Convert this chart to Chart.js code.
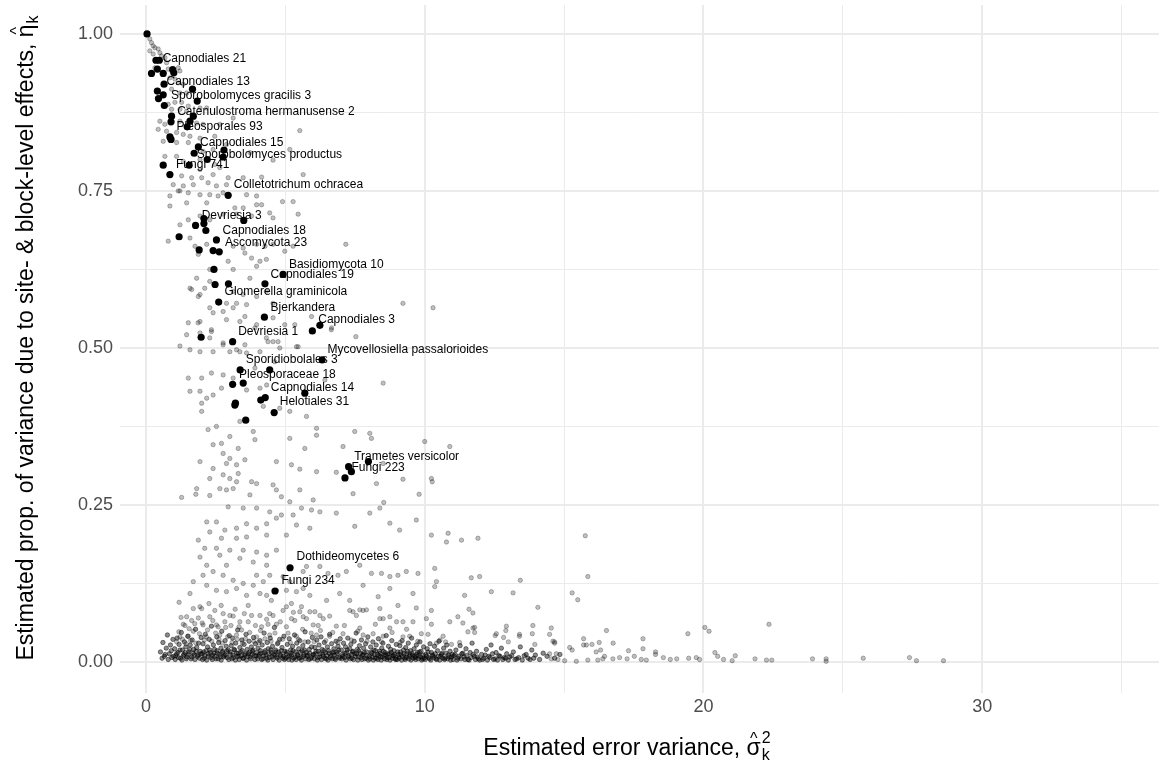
<!DOCTYPE html>
<html>
<head>
<meta charset="utf-8">
<script src="https://cdn.jsdelivr.net/npm/chart.js@4.4.0/dist/chart.umd.min.js"></script>
<style>
  html, body { margin: 0; background: #fff; }
  #wrap { width: 1164px; height: 767px; }
</style>
</head>
<body>
<div id="wrap"><canvas id="chart" width="1164" height="767"></canvas></div>
<script>
// ---- data ([x, y] = [error variance, prop. of variance]) ----

// grey taxa, upper left arm (y > 0.74)
const upperPts = [[0.14,0.992],[0.20,0.986],[0.26,0.981],[0.32,0.978],[0.14,0.973],[0.44,0.976],[0.50,0.970],[0.26,0.968],[0.56,0.965],[0.68,0.962],[0.74,0.954],[0.32,0.946],[0.80,0.944],[1.16,0.946],[1.22,0.941],[0.86,0.930],[1.04,0.928],[1.16,0.922],[1.34,0.920],[0.92,0.912],[1.22,0.906],[1.46,0.906],[0.80,0.888],[1.04,0.891],[1.28,0.891],[1.52,0.885],[0.92,0.880],[1.22,0.880],[1.46,0.877],[1.94,0.882],[2.18,0.882],[0.50,0.861],[0.68,0.856],[1.22,0.861],[1.82,0.858],[2.05,0.856],[2.65,0.856],[3.13,0.866],[0.44,0.848],[0.74,0.845],[1.10,0.843],[1.34,0.840],[1.58,0.837],[1.94,0.834],[2.47,0.837],[0.62,0.829],[1.10,0.827],[1.52,0.827],[2.05,0.813],[2.41,0.816],[2.89,0.824],[3.73,0.811],[4.56,0.799],[5.16,0.816],[5.52,0.846],[0.68,0.805],[1.10,0.805],[1.34,0.797],[1.94,0.800],[2.47,0.792],[2.65,0.787],[1.94,0.784],[1.28,0.774],[1.64,0.771],[2.00,0.771],[2.41,0.776],[2.95,0.771],[3.49,0.771],[4.15,0.772],[5.64,0.776],[0.98,0.760],[1.34,0.758],[1.70,0.760],[2.23,0.763],[2.53,0.758],[2.89,0.760],[1.22,0.750],[1.52,0.747],[1.94,0.744],[2.29,0.744],[2.59,0.742],[3.61,0.744],[3.97,0.742],[0.86,0.742]];

// grey taxa, middle (0.34 < y < 0.74)
const middlePts = [[1.16,0.750],[1.46,0.731],[2.18,0.731],[2.77,0.747],[3.19,0.723],[3.49,0.723],[3.97,0.728],[4.15,0.728],[4.90,0.733],[5.28,0.733],[0.86,0.726],[1.52,0.704],[1.22,0.696],[1.94,0.710],[2.29,0.704],[2.77,0.713],[3.25,0.713],[3.79,0.710],[4.44,0.715],[4.56,0.707],[5.46,0.713],[0.80,0.670],[1.58,0.675],[1.76,0.662],[2.18,0.665],[3.13,0.662],[3.49,0.659],[3.97,0.665],[4.27,0.662],[4.56,0.665],[4.98,0.654],[5.28,0.662],[1.88,0.649],[2.95,0.638],[3.55,0.651],[3.79,0.643],[4.09,0.638],[4.32,0.641],[7.17,0.665],[2.29,0.625],[3.13,0.625],[3.97,0.630],[1.82,0.611],[2.11,0.595],[1.64,0.593],[1.88,0.582],[2.29,0.606],[3.13,0.590],[3.49,0.585],[3.73,0.611],[3.97,0.582],[4.32,0.590],[2.89,0.571],[3.61,0.569],[4.56,0.571],[3.13,0.564],[1.52,0.540],[1.94,0.542],[2.35,0.529],[2.89,0.545],[3.37,0.542],[3.97,0.537],[4.56,0.548],[4.98,0.537],[5.94,0.550],[6.66,0.532],[7.53,0.518],[1.46,0.521],[2.29,0.516],[2.77,0.505],[3.25,0.497],[3.61,0.492],[4.32,0.516],[4.56,0.510],[1.22,0.503],[1.58,0.497],[5.46,0.502],[9.22,0.571],[10.30,0.564],[6.65,0.529],[5.34,0.537],[8.51,0.444],[6.42,0.449],[4.09,0.494],[4.62,0.478],[4.80,0.500],[4.74,0.510],[5.40,0.502],[3.91,0.468],[4.09,0.436],[4.33,0.441],[3.61,0.433],[2.71,0.436],[2.41,0.425],[2.18,0.420],[1.94,0.431],[1.58,0.431],[1.52,0.452],[2.00,0.452],[2.35,0.460],[2.77,0.457],[3.13,0.452],[3.37,0.494],[2.41,0.494],[1.94,0.494],[1.94,0.524],[2.35,0.526],[2.77,0.508],[3.01,0.494],[3.55,0.505],[4.38,0.510],[3.91,0.532],[3.55,0.550],[3.25,0.571],[2.77,0.558],[2.41,0.556],[2.29,0.564],[1.94,0.585],[1.58,0.595],[1.87,0.540],[4.21,0.407],[4.80,0.404],[5.16,0.399],[5.76,0.391],[6.12,0.372],[5.16,0.356],[7.07,0.343],[7.49,0.367],[8.03,0.364],[10.0,0.351],[10.9,0.343],[3.37,0.383],[3.01,0.359],[2.71,0.348],[2.41,0.346],[2.23,0.370],[2.00,0.412],[2.00,0.399],[3.91,0.354],[3.85,0.367],[2.53,0.375]];

// grey taxa, lower scatter (0.08 < y < 0.34)
const lowerPts = [[3.31,0.340],[2.77,0.332],[3.01,0.324],[1.94,0.319],[2.41,0.308],[2.89,0.316],[3.25,0.314],[3.55,0.322],[2.29,0.292],[2.77,0.298],[3.01,0.292],[3.25,0.287],[3.79,0.287],[3.97,0.284],[3.31,0.300],[1.82,0.276],[1.28,0.262],[1.79,0.267],[2.29,0.265],[2.65,0.276],[2.89,0.274],[3.13,0.276],[3.73,0.266],[4.56,0.282],[4.68,0.274],[4.86,0.263],[5.16,0.255],[5.52,0.274],[4.68,0.319],[5.22,0.314],[5.70,0.340],[2.95,0.247],[3.49,0.245],[3.97,0.245],[4.44,0.239],[4.86,0.234],[5.28,0.234],[5.58,0.245],[2.18,0.223],[2.53,0.223],[2.83,0.210],[3.25,0.213],[3.61,0.220],[3.97,0.213],[4.33,0.220],[4.68,0.229],[2.29,0.207],[2.71,0.197],[3.25,0.197],[3.61,0.199],[4.33,0.202],[5.04,0.202],[5.40,0.218],[1.88,0.194],[2.11,0.181],[2.53,0.181],[3.01,0.178],[3.49,0.178],[3.97,0.175],[4.33,0.170],[4.68,0.178],[1.94,0.167],[2.18,0.154],[2.65,0.170],[2.89,0.154],[3.37,0.165],[3.85,0.159],[4.33,0.154],[3.97,0.138],[4.44,0.138],[4.92,0.136],[1.70,0.128],[2.05,0.138],[2.41,0.144],[2.77,0.138],[3.13,0.130],[3.49,0.125],[3.85,0.122],[4.21,0.128],[4.68,0.114],[5.16,0.128],[5.40,0.112],[5.64,0.117],[1.58,0.109],[2.18,0.122],[2.53,0.114],[2.89,0.112],[3.25,0.117],[3.61,0.106],[4.09,0.109],[4.33,0.106],[5.04,0.114],
  [6.12,0.361],[8.09,0.356],[6.12,0.303],[6.83,0.302],[8.51,0.316],[9.22,0.291],[10.24,0.292],[10.27,0.287],[8.27,0.284],[7.43,0.268],[9.80,0.267],[6.00,0.258],[6.24,0.239],[5.94,0.242],[6.83,0.237],[8.03,0.237],[8.39,0.245],[8.53,0.254],[8.75,0.221],[9.70,0.226],[9.10,0.210],[7.49,0.216],[6.24,0.152],[6.53,0.141],[6.89,0.138],[7.19,0.144],[7.67,0.154],[8.09,0.141],[8.45,0.141],[8.75,0.136],[9.04,0.138],[9.34,0.144],[9.76,0.141],[10.36,0.149],[10.42,0.128],[10.78,0.191],[10.84,0.205],[10.24,0.202],[11.32,0.194],[11.91,0.197],[11.67,0.134],[11.97,0.136],[12.39,0.112],[13.17,0.110],[13.43,0.130],[14.06,0.087],[11.43,0.106],[10.36,0.120],[9.58,0.109],[8.75,0.117],[8.33,0.104],[7.79,0.122],[7.31,0.098],[6.95,0.109],[6.48,0.098],[5.88,0.106],[5.22,0.093],[4.50,0.098],[5.88,0.213],[5.76,0.152],[5.64,0.144],[5.52,0.307],[1.19,0.095],[3.67,0.090],[9.04,0.090]];

// grey taxa just above the floor (0.03 < y < 0.09)
const fringePts = [[1.40,0.058],[1.64,0.066],[1.88,0.070],[2.00,0.085],[2.47,0.082],[2.59,0.056],[2.83,0.064],[3.01,0.074],[3.43,0.051],[3.67,0.064],[3.79,0.074],[4.15,0.056],[4.38,0.060],[4.56,0.074],[4.92,0.082],[5.04,0.056],[5.34,0.066],[5.58,0.088],[5.64,0.072],[5.88,0.080],[6.06,0.080],[6.18,0.058],[6.36,0.069],[6.59,0.073],[6.83,0.057],[7.07,0.045],[7.31,0.082],[7.55,0.074],[7.79,0.082],[7.67,0.054],[8.15,0.045],[8.39,0.085],[8.51,0.069],[8.75,0.054],[8.99,0.064],[9.22,0.040],[9.58,0.064],[9.70,0.086],[9.88,0.045],[10.06,0.069],[2.29,0.072],[3.13,0.073],
  [1.22,0.040],[1.52,0.041],[2.17,0.040],[2.65,0.043],[3.25,0.043],[3.97,0.040],[4.44,0.043],[5.40,0.041],[6.12,0.043],[6.59,0.041],[7.79,0.043],[8.51,0.041],[9.46,0.041],
  [1.34,0.060],[1.46,0.072],[1.70,0.085],[1.94,0.088],[1.70,0.049],[2.05,0.059],[2.53,0.059],[2.77,0.077],[3.37,0.064],[4.09,0.074],[4.44,0.077],[4.68,0.060],[5.04,0.088],[5.22,0.069],[5.52,0.080],[5.76,0.069],[6.00,0.059],[6.24,0.074],[7.43,0.080],[7.67,0.083],[7.91,0.083],[8.39,0.069],[8.75,0.072],[9.22,0.064],[10.24,0.060],[10.90,0.064],[11.19,0.072],[11.55,0.048],[11.79,0.055],[12.57,0.045],[12.93,0.057],[13.40,0.044],[13.88,0.058],[14.66,0.032],
  [10.24,0.082],[11.37,0.062],[11.59,0.084],[11.73,0.078],[11.73,0.054],[11.79,0.047],[10.66,0.041],[10.42,0.030],[10.75,0.032],[10.96,0.028],[11.25,0.031],[12.53,0.042],[12.83,0.039],[12.91,0.050],[13.00,0.032],[13.40,0.041],[13.86,0.045],[13.95,0.028],
  [1.10,0.032],[1.18,0.048],[1.26,0.071],[1.31,0.036],[1.44,0.029],[1.55,0.053],[1.60,0.034],[1.75,0.061],[1.79,0.030],[1.92,0.045],[2.02,0.062],[2.10,0.035],[2.21,0.051],[2.26,0.093],[2.36,0.033],[2.40,0.066],[2.50,0.046],[2.62,0.036],[2.70,0.090],[2.74,0.030],[2.86,0.055],[2.93,0.040],[3.05,0.058],[3.09,0.031],[3.20,0.084],[3.28,0.036],[3.34,0.056],[3.46,0.030],[3.53,0.077],[3.57,0.037],[3.72,0.047],[3.87,0.033],[3.93,0.058],[4.04,0.031],[4.11,0.050],[4.27,0.037],[4.33,0.068],[4.49,0.033],[4.63,0.046],[4.74,0.031],[4.82,0.064],[4.90,0.036],[5.10,0.046],[5.18,0.031],[5.29,0.079],[5.47,0.036],[5.62,0.052],[5.70,0.032],[5.93,0.046],[6.03,0.032],[6.26,0.050],[6.45,0.034],[6.70,0.047],[6.89,0.031],[7.12,0.058],[7.37,0.035],[7.60,0.049],[7.93,0.033],[8.23,0.060],[8.45,0.032],[8.83,0.047],[9.12,0.031],[9.35,0.052],[9.75,0.033],[10.12,0.044],[10.55,0.035]];

// grey taxa, long right tail
const tailPts = [[15.76,0.201],[15.85,0.136],[15.29,0.110],[15.49,0.099],[14.54,0.054],[14.48,0.044],[14.60,0.033],[14.66,0.030],[15.20,0.023],[15.29,0.019],[16.52,0.050],[15.70,0.037],[15.70,0.027],[15.80,0.027],[16.00,0.028],[16.26,0.031],[16.76,0.030],[16.15,0.016],[16.31,0.019],[17.31,0.018],[17.83,0.037],[17.83,0.021],[18.28,0.016],[17.52,0.009],[19.44,0.045],[20.05,0.055],[20.20,0.049],[22.35,0.060],[20.41,0.015],[20.51,0.009],[21.14,0.010],[20.72,0.004],[21.03,0.002],[21.85,0.005],[22.26,0.003],[22.45,0.003],[23.91,0.005],[24.40,0.005],[24.40,0.001],[25.73,0.006],[27.39,0.007],[27.64,0.002],[28.61,0.002],[19.74,0.007],[19.86,0.004],[19.47,0.006],[19.04,0.005],[18.81,0.004],[18.56,0.007],[18.28,0.012],[17.95,0.003],[17.77,0.004],[17.26,0.005],[16.99,0.007],[16.75,0.005],[16.45,0.009],[16.39,0.005],[16.21,0.003],[15.85,0.003],[15.44,0.001],[15.02,0.002],[14.78,0.004],[14.54,0.005],[14.48,0.013],[14.72,0.013]];

// grey taxa, the dense floor near zero
const floorPts = [[0.52,0.016],[0.61,0.031],[0.66,0.009],[0.73,0.022],[0.77,0.043],[0.84,0.013],[0.88,0.027],[0.93,0.007],[0.97,0.036],
  [1.03,0.021],[1.07,0.010],[1.12,0.038],[1.15,0.015],[1.19,0.028],[1.24,0.006],[1.27,0.047],[1.31,0.019],[1.36,0.012],[1.38,0.032],[1.43,0.024],[1.47,0.008],[1.50,0.041],[1.54,0.016],[1.59,0.027],[1.62,0.005],[1.66,0.035],[1.71,0.020],[1.73,0.011],[1.78,0.052],[1.82,0.023],[1.85,0.009],[1.89,0.030],[1.94,0.017],[1.98,0.039],
  [2.02,0.013],[2.05,0.029],[2.09,0.006],[2.13,0.044],[2.16,0.018],[2.21,0.024],[2.24,0.009],[2.27,0.036],[2.32,0.015],[2.35,0.057],[2.39,0.011],[2.42,0.027],[2.46,0.020],[2.51,0.005],[2.54,0.040],[2.57,0.014],[2.61,0.031],[2.66,0.008],[2.69,0.022],[2.72,0.049],[2.76,0.017],[2.81,0.010],[2.84,0.034],[2.88,0.025],[2.91,0.007],[2.95,0.019],[2.99,0.042],
  [3.03,0.012],[3.06,0.026],[3.11,0.038],[3.14,0.007],[3.18,0.019],[3.22,0.030],[3.25,0.014],[3.29,0.051],[3.33,0.009],[3.37,0.023],[3.40,0.016],[3.44,0.035],[3.48,0.006],[3.52,0.028],[3.55,0.011],[3.59,0.044],[3.63,0.020],[3.67,0.013],[3.70,0.033],[3.74,0.008],[3.78,0.024],[3.82,0.017],[3.86,0.039],[3.89,0.010],[3.93,0.029],[3.97,0.015],
  [4.02,0.022],[4.05,0.009],[4.09,0.034],[4.13,0.014],[4.17,0.027],[4.20,0.005],[4.24,0.046],[4.28,0.018],[4.31,0.011],[4.35,0.031],[4.39,0.021],[4.43,0.007],[4.46,0.038],[4.50,0.015],[4.54,0.025],[4.58,0.012],[4.61,0.055],[4.65,0.019],[4.69,0.008],[4.72,0.029],[4.76,0.016],[4.80,0.036],[4.84,0.010],[4.88,0.023],[4.91,0.006],[4.95,0.041],[4.98,0.017],
  [5.03,0.013],[5.07,0.028],[5.10,0.008],[5.14,0.037],[5.19,0.019],[5.22,0.011],[5.26,0.025],[5.30,0.006],[5.33,0.043],[5.37,0.016],[5.41,0.030],[5.45,0.010],[5.48,0.021],[5.52,0.034],[5.56,0.007],[5.60,0.018],[5.63,0.026],[5.67,0.012],[5.71,0.048],[5.75,0.015],[5.78,0.009],[5.82,0.032],[5.86,0.020],[5.90,0.005],[5.94,0.024],[5.97,0.039],
  [6.02,0.011],[6.06,0.023],[6.10,0.017],[6.13,0.035],[6.17,0.007],[6.21,0.027],[6.25,0.013],[6.28,0.040],[6.32,0.020],[6.36,0.009],[6.40,0.031],[6.44,0.015],[6.47,0.005],[6.51,0.024],[6.55,0.018],[6.59,0.044],[6.63,0.010],[6.66,0.029],[6.70,0.014],[6.74,0.021],[6.78,0.006],[6.82,0.033],[6.85,0.016],[6.89,0.025],[6.93,0.008],[6.97,0.037],
  [7.01,0.019],[7.05,0.012],[7.09,0.030],[7.12,0.007],[7.16,0.024],[7.20,0.015],[7.24,0.038],[7.28,0.010],[7.31,0.021],[7.35,0.028],[7.39,0.006],[7.43,0.017],[7.47,0.033],[7.50,0.013],[7.54,0.046],[7.58,0.020],[7.62,0.008],[7.66,0.026],[7.69,0.014],[7.73,0.035],[7.77,0.011],[7.81,0.022],[7.85,0.005],[7.88,0.029],[7.92,0.016],[7.96,0.040],
  [8.02,0.009],[8.06,0.024],[8.10,0.014],[8.14,0.032],[8.18,0.019],[8.22,0.006],[8.26,0.027],[8.30,0.012],[8.34,0.037],[8.38,0.017],[8.42,0.008],[8.46,0.022],[8.50,0.030],[8.54,0.011],[8.58,0.015],[8.62,0.042],[8.66,0.007],[8.70,0.025],[8.74,0.013],[8.78,0.020],[8.82,0.034],[8.86,0.010],[8.90,0.018],[8.94,0.005],[8.98,0.028],
  [9.03,0.016],[9.07,0.008],[9.11,0.026],[9.15,0.012],[9.19,0.034],[9.24,0.019],[9.28,0.006],[9.32,0.023],[9.36,0.013],[9.41,0.030],[9.45,0.009],[9.49,0.018],[9.53,0.038],[9.57,0.011],[9.62,0.021],[9.66,0.007],[9.70,0.027],[9.74,0.015],[9.79,0.010],[9.83,0.032],[9.87,0.017],[9.92,0.005],[9.96,0.024],
  [10.04,0.012],[10.09,0.021],[10.14,0.007],[10.19,0.029],[10.24,0.015],[10.30,0.010],[10.35,0.025],[10.40,0.005],[10.46,0.018],[10.51,0.033],[10.57,0.009],[10.62,0.014],[10.68,0.022],[10.73,0.006],[10.79,0.027],[10.85,0.011],[10.91,0.017],[10.96,0.008],
  [11.05,0.010],[11.12,0.019],[11.19,0.006],[11.27,0.026],[11.33,0.013],[11.41,0.008],[11.48,0.021],[11.55,0.004],[11.63,0.015],[11.70,0.030],[11.78,0.009],[11.86,0.017],[11.93,0.005],
  [12.04,0.012],[12.12,0.006],[12.21,0.020],[12.30,0.009],[12.38,0.027],[12.47,0.004],[12.56,0.015],[12.66,0.010],[12.75,0.022],[12.85,0.007],[12.94,0.013],
  [13.05,0.008],[13.18,0.016],[13.30,0.005],[13.43,0.024],[13.57,0.010],[13.71,0.006],[13.84,0.019],[13.97,0.011],[14.12,0.004],[14.25,0.014],[14.39,0.009],[14.66,0.006],[14.85,0.012]];

// grey taxa, the darkest core of the floor (y < 0.02)
const corePts = [[0.58,0.006],[0.69,0.012],[0.80,0.004],[0.91,0.018],[0.99,0.009],
  [1.05,0.004],[1.10,0.013],[1.17,0.007],[1.22,0.019],[1.29,0.003],[1.34,0.010],[1.41,0.015],[1.45,0.005],[1.52,0.012],[1.57,0.020],[1.64,0.008],[1.69,0.014],[1.76,0.004],[1.80,0.017],[1.87,0.011],[1.92,0.006],[1.97,0.013],
  [2.03,0.004],[2.07,0.016],[2.11,0.010],[2.18,0.003],[2.23,0.013],[2.29,0.019],[2.33,0.007],[2.38,0.004],[2.44,0.014],[2.48,0.009],[2.55,0.018],[2.59,0.005],[2.64,0.012],[2.70,0.003],[2.74,0.015],[2.79,0.008],[2.86,0.011],[2.90,0.017],[2.97,0.004],
  [3.02,0.016],[3.08,0.005],[3.12,0.011],[3.16,0.020],[3.21,0.003],[3.27,0.009],[3.31,0.014],[3.35,0.004],[3.42,0.010],[3.46,0.018],[3.50,0.006],[3.57,0.013],[3.61,0.003],[3.65,0.009],[3.72,0.016],[3.76,0.005],[3.81,0.012],[3.84,0.019],[3.91,0.004],[3.95,0.010],
  [4.01,0.005],[4.07,0.012],[4.11,0.018],[4.15,0.004],[4.22,0.010],[4.26,0.015],[4.33,0.006],[4.37,0.003],[4.41,0.013],[4.48,0.019],[4.52,0.008],[4.56,0.004],[4.63,0.011],[4.67,0.016],[4.71,0.006],[4.78,0.003],[4.82,0.012],[4.86,0.018],[4.93,0.009],[4.97,0.004],
  [5.01,0.006],[5.05,0.016],[5.12,0.004],[5.16,0.010],[5.21,0.014],[5.24,0.003],[5.28,0.018],[5.35,0.008],[5.39,0.004],[5.43,0.012],[5.50,0.006],[5.54,0.015],[5.58,0.003],[5.65,0.009],[5.69,0.019],[5.73,0.005],[5.80,0.011],[5.84,0.004],[5.88,0.014],[5.95,0.007],[5.99,0.012],
  [6.04,0.005],[6.08,0.013],[6.15,0.003],[6.19,0.017],[6.23,0.008],[6.30,0.004],[6.34,0.012],[6.38,0.018],[6.42,0.006],[6.49,0.010],[6.53,0.003],[6.57,0.014],[6.61,0.007],[6.68,0.005],[6.72,0.016],[6.76,0.011],[6.80,0.004],[6.87,0.013],[6.91,0.019],[6.95,0.006],
  [7.03,0.005],[7.07,0.009],[7.14,0.014],[7.18,0.003],[7.22,0.019],[7.26,0.008],[7.33,0.005],[7.37,0.012],[7.41,0.016],[7.45,0.004],[7.52,0.009],[7.56,0.013],[7.60,0.003],[7.64,0.018],[7.71,0.007],[7.75,0.004],[7.79,0.012],[7.83,0.015],[7.90,0.006],[7.94,0.010],[7.98,0.003],
  [8.04,0.005],[8.08,0.016],[8.12,0.008],[8.16,0.003],[8.20,0.012],[8.24,0.018],[8.28,0.006],[8.32,0.004],[8.36,0.010],[8.40,0.014],[8.44,0.003],[8.48,0.008],[8.52,0.017],[8.56,0.005],[8.60,0.011],[8.64,0.004],[8.68,0.013],[8.72,0.007],[8.76,0.003],[8.80,0.015],[8.84,0.006],[8.88,0.010],[8.92,0.012],[8.96,0.004],
  [9.01,0.004],[9.05,0.012],[9.09,0.006],[9.13,0.016],[9.17,0.003],[9.21,0.009],[9.26,0.013],[9.30,0.004],[9.34,0.007],[9.38,0.017],[9.43,0.005],[9.47,0.011],[9.51,0.003],[9.55,0.014],[9.59,0.006],[9.64,0.009],[9.68,0.004],[9.72,0.012],[9.77,0.005],[9.81,0.016],[9.85,0.008],[9.89,0.003],[9.94,0.011],[9.98,0.006],
  [10.02,0.004],[10.07,0.009],[10.12,0.016],[10.17,0.005],[10.22,0.003],[10.27,0.011],[10.33,0.007],[10.38,0.013],[10.43,0.004],[10.49,0.009],[10.54,0.003],[10.60,0.012],[10.65,0.006],[10.71,0.004],[10.76,0.014],[10.82,0.005],[10.88,0.008],[10.93,0.003],[10.99,0.012],
  [11.02,0.004],[11.09,0.012],[11.16,0.003],[11.23,0.009],[11.30,0.005],[11.37,0.014],[11.44,0.004],[11.51,0.010],[11.59,0.003],[11.66,0.007],[11.74,0.012],[11.82,0.004],[11.89,0.008],[11.97,0.003],
  [12.08,0.004],[12.17,0.011],[12.25,0.003],[12.34,0.007],[12.43,0.013],[12.52,0.005],[12.61,0.003],[12.70,0.009],[12.80,0.004],[12.90,0.006],[13.00,0.003],[13.12,0.010],[13.24,0.004],[13.37,0.007],[13.50,0.003],[13.64,0.012],[13.78,0.004],[13.91,0.006]];

// highlighted taxa (black dots)
const keyPts = [[0.04,1.000],[0.36,0.958],[0.48,0.958],[0.20,0.937],[0.41,0.944],[0.62,0.937],[0.96,0.943],[1.00,0.938],[0.65,0.920],[0.41,0.909],[1.67,0.912],[0.62,0.903],[0.45,0.897],[1.84,0.893],[0.66,0.886],[0.92,0.869],[1.70,0.869],[1.58,0.861],[0.90,0.860],[1.48,0.852],[0.86,0.836],[0.90,0.832],[1.88,0.820],[2.80,0.815],[1.73,0.810],[2.77,0.804],[2.20,0.800],[0.62,0.791],[1.55,0.791],[0.86,0.776],[2.95,0.743],[3.51,0.703],[2.08,0.706],[1.78,0.695],[2.08,0.698],[2.15,0.687],[1.19,0.677],[2.53,0.672],[1.91,0.656],[2.41,0.655],[2.63,0.653],[2.44,0.625],[4.92,0.617],[2.48,0.601],[2.96,0.602],[4.27,0.602],[2.61,0.573],[4.25,0.549],[6.24,0.536],[5.97,0.527],[1.98,0.517],[3.11,0.510],[6.32,0.481],[3.38,0.465],[4.44,0.465],[3.11,0.442],[3.49,0.444],[5.70,0.428],[4.12,0.417],[4.28,0.421],[3.19,0.409],[3.21,0.412],[4.60,0.397],[3.58,0.385],[7.98,0.319],[7.27,0.311],[7.37,0.303],[7.14,0.293],[5.17,0.150],[4.63,0.113]];

// text labels and where their left edge sits (data units)
const labelNames = ['Capnodiales 21','Capnodiales 13','Sporobolomyces gracilis 3','Catenulostroma hermanusense 2','Pleosporales 93','Capnodiales 15','Sporobolomyces productus','Fungi 741','Colletotrichum ochracea','Devriesia 3','Capnodiales 18','Ascomycota 23','Basidiomycota 10','Capnodiales 19','Glomerella graminicola','Bjerkandera','Capnodiales 3','Devriesia 1','Mycovellosiella passalorioides','Sporidiobolales 3','Pleosporaceae 18','Capnodiales 14','Helotiales 31','Trametes versicolor','Fungi 223','Dothideomycetes 6','Fungi 234'];
const labelX = [0.60,0.74,0.90,1.12,1.10,1.94,1.82,1.08,3.15,2.00,2.75,2.84,5.13,4.47,2.82,4.47,6.18,3.31,6.51,3.58,3.34,4.48,4.80,7.47,7.37,5.40,4.86];
const labelY = [0.961,0.924,0.901,0.876,0.852,0.826,0.807,0.791,0.760,0.711,0.687,0.668,0.632,0.617,0.589,0.564,0.545,0.526,0.497,0.481,0.458,0.437,0.414,0.327,0.309,0.167,0.129];

const xGridTicks = [0, 5, 10, 15, 20, 25, 30, 35];
const yGridTicks = [0, 0.125, 0.25, 0.375, 0.5, 0.625, 0.75, 0.875, 1];

// ---- drawing ----
const FONT = '"Liberation Sans", Arial, Helvetica, sans-serif';
const PANEL_LEFT = 120;
const PANEL_BOTTOM = 691;

const toXY = p => ({ x: p[0], y: p[1] });
const greyAll = [].concat(upperPts, middlePts, lowerPts, fringePts, tailPts);
const floorAll = [].concat(floorPts, corePts);

function drawMathTitle(ctx, lead, sym, sup, sub, cx, baseY) {
  const big = '23px ' + FONT;
  const small = '16px ' + FONT;
  ctx.font = big;
  const wLead = ctx.measureText(lead).width;
  const wSym = ctx.measureText(sym).width;
  ctx.font = small;
  const wScript = Math.max(sup ? ctx.measureText(sup).width : 0, ctx.measureText(sub).width);
  let x = cx - (wLead + wSym + wScript + 1) / 2;
  ctx.textAlign = 'left';
  ctx.textBaseline = 'alphabetic';
  ctx.font = big;
  ctx.fillText(lead, x, baseY);
  x += wLead;
  ctx.fillText(sym, x, baseY);
  ctx.font = small;
  ctx.textAlign = 'center';
  ctx.fillText('^', x + wSym / 2, baseY - 11);
  ctx.textAlign = 'left';
  x += wSym + 1;
  if (sup) ctx.fillText(sup, x, baseY - 12);
  ctx.fillText(sub, x, baseY + 5);
}

const annotate = {
  id: 'annotate',
  afterDatasetsDraw(chart) {
    const { ctx, scales } = chart;
    ctx.save();
    ctx.fillStyle = '#000';
    ctx.font = '12px ' + FONT;
    ctx.textAlign = 'left';
    ctx.textBaseline = 'middle';
    labelNames.forEach((name, i) => {
      ctx.fillText(name, scales.x.getPixelForValue(labelX[i]), scales.y.getPixelForValue(labelY[i]));
    });
    ctx.restore();
  },
  afterDraw(chart) {
    const { ctx } = chart;
    ctx.save();
    ctx.fillStyle = '#000';
    drawMathTitle(ctx, 'Estimated error variance, ', 'σ', '2', 'k', 627, 755);
    ctx.translate(33, 338);
    ctx.rotate(-Math.PI / 2);
    drawMathTitle(ctx, 'Estimated prop. of variance due to site- & block-level effects, ', 'η', null, 'k', 0, 0);
    ctx.restore();
  }
};

const gridColor = '#ebebeb';
const noPad = s => { s.paddingTop = 0; s.paddingBottom = 0; s.paddingLeft = 0; s.paddingRight = 0; };

new Chart(document.getElementById('chart'), {
  type: 'scatter',
  data: {
    datasets: [
      {
        data: keyPts.map(toXY), order: 0,
        pointRadius: 3.6, pointBackgroundColor: '#000', pointBorderWidth: 0
      },
      {
        data: greyAll.map(toXY), order: 1,
        pointRadius: 2.2, pointBackgroundColor: 'rgba(0,0,0,0.25)',
        pointBorderColor: 'rgba(0,0,0,0.25)', pointBorderWidth: 1
      },
      {
        data: floorAll.map(toXY), order: 2,
        pointRadius: 2.2, pointBackgroundColor: 'rgba(0,0,0,0.45)',
        pointBorderColor: 'rgba(0,0,0,0.45)', pointBorderWidth: 1
      }
    ]
  },
  options: {
    responsive: false,
    animation: false,
    events: [],
    layout: { padding: { top: 0, right: 4, left: 0, bottom: 0 } },
    plugins: { legend: { display: false }, tooltip: { enabled: false } },
    scales: {
      x: {
        type: 'linear', min: -0.93, max: 36.34,
        afterBuildTicks: s => { s.ticks = xGridTicks.map(v => ({ value: v })); },
        afterFit: s => { s.height = 765 - PANEL_BOTTOM; noPad(s); },
        ticks: {
          callback: v => (v % 10 === 0 ? String(v) : ''),
          font: { family: FONT, size: 18 }, color: '#4d4d4d', padding: 3, maxRotation: 0, autoSkip: false
        },
        grid: {
          color: gridColor, drawTicks: false,
          lineWidth: c => (c.tick && c.tick.value % 10 === 0 ? 2 : 1)
        },
        border: { display: false }
      },
      y: {
        type: 'linear', min: -0.0494, max: 1.046,
        afterBuildTicks: s => { s.ticks = yGridTicks.map(v => ({ value: v })); },
        afterFit: s => { s.width = PANEL_LEFT; noPad(s); },
        ticks: {
          callback: v => (Math.abs(v * 4 - Math.round(v * 4)) < 1e-9 ? v.toFixed(2) : ''),
          font: { family: FONT, size: 18 }, color: '#4d4d4d', padding: 7, autoSkip: false
        },
        grid: {
          color: gridColor, drawTicks: false,
          lineWidth: c => (c.tick && Math.abs(c.tick.value * 4 - Math.round(c.tick.value * 4)) < 1e-9 ? 2 : 1)
        },
        border: { display: false }
      }
    }
  },
  plugins: [annotate]
});
</script>
</body>
</html>
